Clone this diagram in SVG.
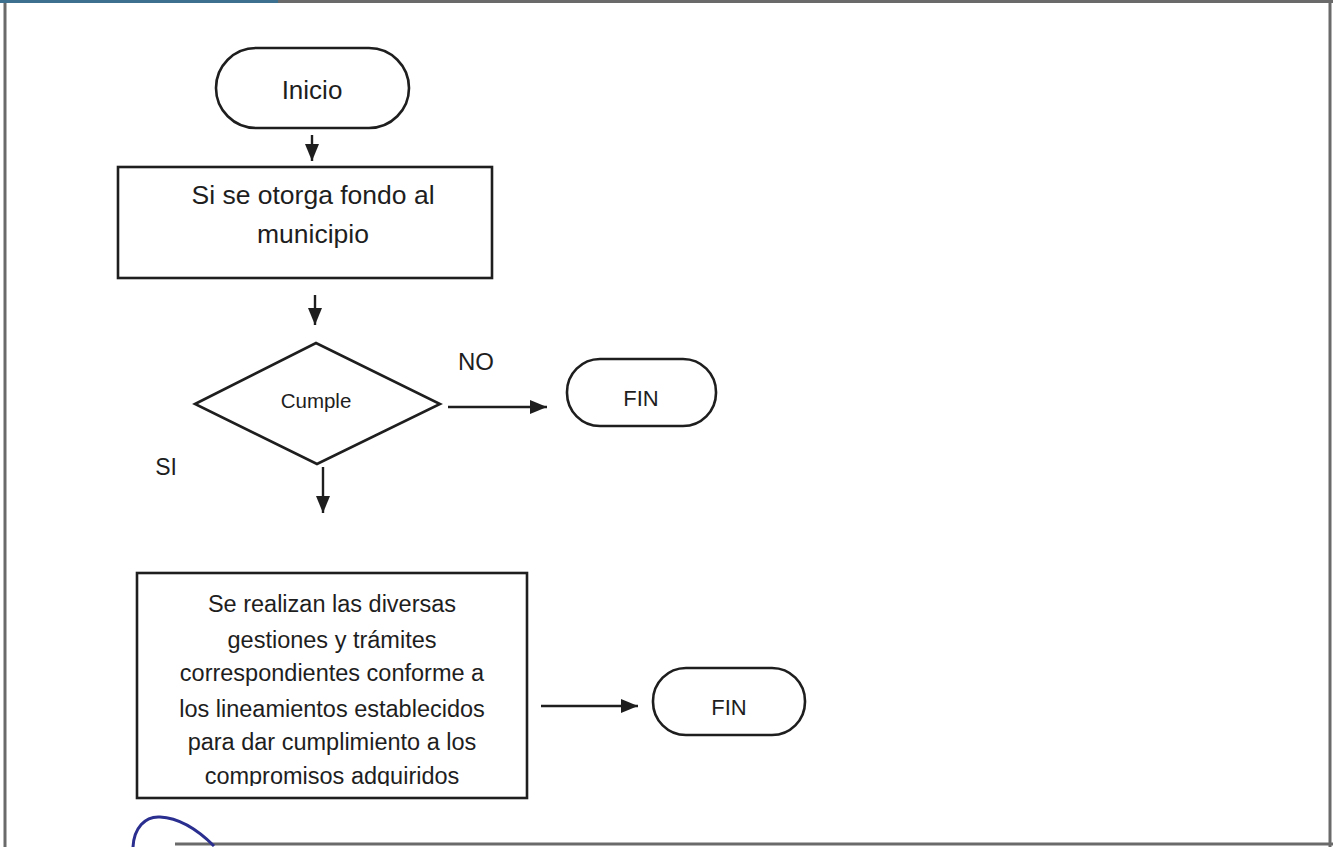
<svg xmlns="http://www.w3.org/2000/svg" width="1333" height="847" viewBox="0 0 1333 847">
<style>
.shape{fill:#fff;stroke:#1e1e1e;stroke-width:2.6}
.conn{stroke:#1e1e1e;stroke-width:2.4;fill:none}
text{font-family:"Liberation Sans",Arial,sans-serif;fill:#1e1e1e;text-anchor:middle}
.frame{stroke:#6a6a6a;stroke-width:3;fill:none}
</style>
<defs>
<marker id="ah" markerUnits="userSpaceOnUse" markerWidth="18" markerHeight="16" viewBox="0 0 18 16" refX="17" refY="8" orient="auto">
<path d="M0,1 L17,8 L0,15 Z" fill="#1e1e1e"/>
</marker>
<clipPath id="clipB"><rect x="137" y="573" width="390" height="213"/></clipPath>
</defs>
<rect width="1333" height="847" fill="#fff"/>
<g id="frame">
<line class="frame" x1="5" y1="0" x2="5" y2="847"/>
<line class="frame" x1="0" y1="1.5" x2="1333" y2="1.5"/>
<line x1="0" y1="1.5" x2="278" y2="1.5" stroke="#3d6f8f" stroke-width="3"/>
<line class="frame" x1="1330" y1="0" x2="1330" y2="847"/>
<line class="frame" x1="175" y1="844" x2="1333" y2="844"/>
<path d="M133,847 C134,828 145,816 160,817 C180,818 198,830 214,846" fill="none" stroke="#2a2f8f" stroke-width="3"/>
</g>
<g id="connectors">
<line class="conn" x1="312" y1="135" x2="312" y2="161" marker-end="url(#ah)"/>
<line class="conn" x1="315" y1="295" x2="315" y2="325" marker-end="url(#ah)"/>
<line class="conn" x1="448" y1="407" x2="547" y2="407" marker-end="url(#ah)"/>
<line class="conn" x1="323" y1="467" x2="323" y2="513" marker-end="url(#ah)"/>
<line class="conn" x1="541" y1="706" x2="638" y2="706" marker-end="url(#ah)"/>
</g>
<g id="inicio">
<rect class="shape" x="216" y="48" width="193" height="80" rx="40"/>
<text x="312" y="99" font-size="26">Inicio</text>
</g>
<g id="fondo">
<rect class="shape" x="118" y="167" width="374" height="111"/>
<text x="313" y="204" font-size="26.5">Si se otorga fondo al</text>
<text x="313" y="243" font-size="26.5">municipio</text>
</g>
<g id="cumple">
<polygon class="shape" points="195,404 316,343 440,404 317,464"/>
<text x="316" y="408" font-size="20.5">Cumple</text>
</g>
<g id="labels">
<text x="476" y="370" font-size="24">NO</text>
<text x="166" y="475" font-size="23">SI</text>
</g>
<g id="fin1">
<rect class="shape" x="567" y="359" width="149" height="67" rx="33"/>
<text x="641" y="406" font-size="22">FIN</text>
</g>
<g id="gestiones">
<rect class="shape" x="137" y="573" width="390" height="225"/>
<g clip-path="url(#clipB)" font-size="23.5">
<text x="332" y="612">Se realizan las diversas</text>
<text x="332" y="648">gestiones y trámites</text>
<text x="332" y="681">correspondientes conforme a</text>
<text x="332" y="717">los lineamientos establecidos</text>
<text x="332" y="750">para dar cumplimiento a los</text>
<text x="332" y="784">compromisos adquiridos</text>
</g>
</g>
<g id="fin2">
<rect class="shape" x="653" y="668" width="152" height="67" rx="33"/>
<text x="729" y="715" font-size="22">FIN</text>
</g>
</svg>
